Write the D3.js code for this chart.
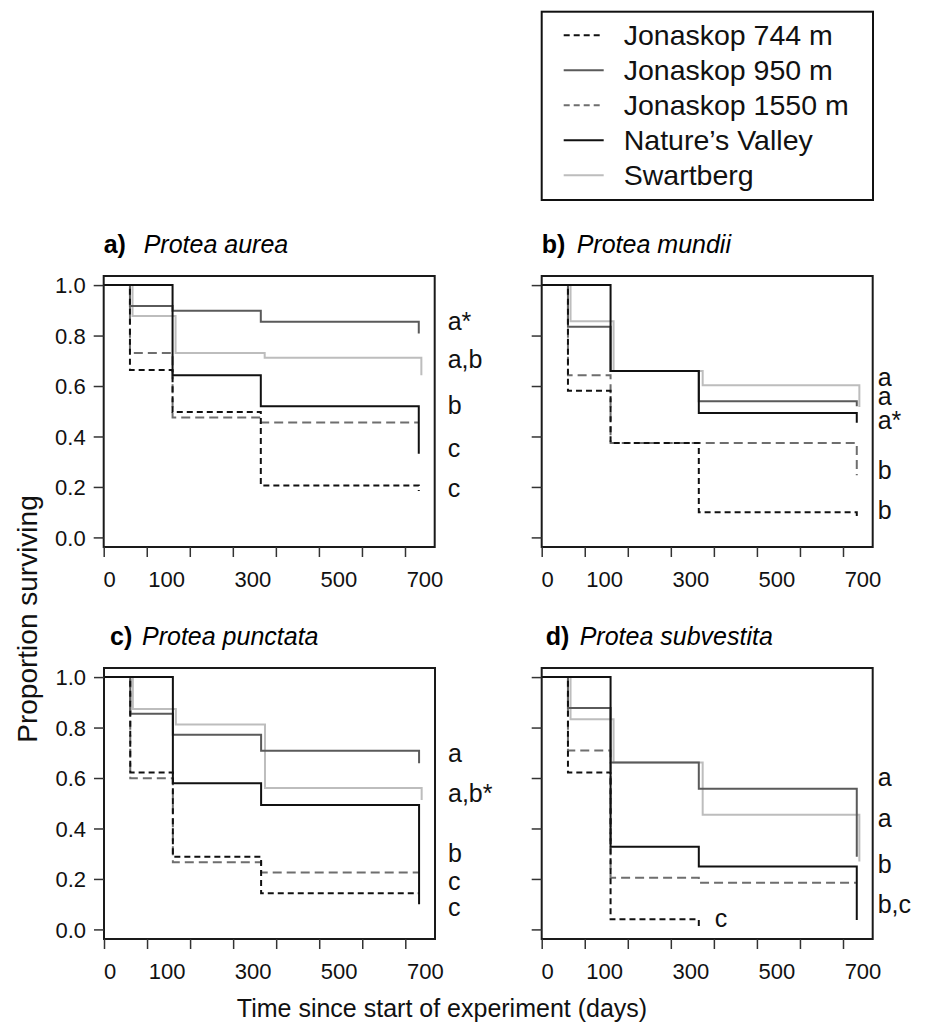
<!DOCTYPE html>
<html>
<head>
<meta charset="utf-8">
<script src="https://cdnjs.cloudflare.com/ajax/libs/d3/7.8.5/d3.min.js"></script>
<style>
  body { margin: 0; background: #fff; }
  svg { display: block; font-family: "Liberation Sans", Arial, Helvetica, sans-serif; }
</style>
</head>
<body>
<div id="chart"></div>
<script>
// Sites, in legend order
const sites = ["Jonaskop 744 m", "Jonaskop 950 m", "Jonaskop 1550 m", "Nature\u2019s Valley", "Swartberg"];
const siteColors = ["#111", "#5a5a5a", "#6e6e6e", "#111", "#bdbdbd"];
const siteDashes = ["6,4", null, "9,5", null, null];

// Census days (step times); last one is the end of the record
const jonaskopDays = [61, 160, 365, 732];
const natureDays = [61, 160, 365, 732];
const swartbergDays = [67, 167, 374, 738];
const siteDays = [jonaskopDays, jonaskopDays, jonaskopDays, natureDays, swartbergDays];

// Proportion surviving after each census, per site (same order as sites)
const aurea = [
  [0.663, 0.497, 0.206, 0.184],
  [0.917, 0.898, 0.855, 0.808],
  [0.731, 0.475, 0.455, 0.455],
  [1.0, 0.643, 0.520, 0.332],
  [0.877, 0.731, 0.712, 0.643]
];
const mundii = [
  [0.581, 0.374, 0.100, 0.081],
  [0.835, 0.660, 0.540, 0.520],
  [0.643, 0.374, 0.374, 0.246],
  [1.0, 0.660, 0.493, 0.454],
  [0.857, 0.660, 0.603, 0.517]
];
const punctata = [
  [0.622, 0.288, 0.143, 0.143],
  [0.855, 0.771, 0.708, 0.659],
  [0.599, 0.266, 0.226, 0.226],
  [1.0, 0.579, 0.493, 0.100],
  [0.874, 0.812, 0.560, 0.513]
];
const subvestita = [
  [0.622, 0.040, 0.0],
  [0.877, 0.661, 0.557, 0.288],
  [0.709, 0.205, 0.185, 0.185],
  [1.0, 0.328, 0.249, 0.037],
  [0.833, 0.661, 0.454, 0.269]
];

// Significance letters and where they sit (proportion units; day null = right of box)
const aureaLetters = ["a*", "a,b", "b", "c", "c"];
const aureaLetterY = [0.821, 0.671, 0.488, 0.317, 0.159];
const mundiiLetters = ["a", "a", "a*", "b", "b"];
const mundiiLetterY = [0.600, 0.524, 0.431, 0.233, 0.074];
const punctataLetters = ["a", "a,b*", "b", "c", "c"];
const punctataLetterY = [0.665, 0.506, 0.268, 0.156, 0.055];
const subvestitaLetters = ["a", "a", "b", "b,c", "c"];
const subvestitaLetterY = [0.569, 0.405, 0.222, 0.067, 0.008];
const subvestitaLetterDay = [null, null, null, null, 402];

const xTicks = [0, 100, 200, 300, 400, 500, 600, 700];
const xTickLabels = [0, 100, 300, 500, 700];
const yTicks = [0, 0.2, 0.4, 0.6, 0.8, 1.0];

const W = 925, H = 1022;
const pw = 331, ph = 271;

const panels = [
  { tag: "a)", name: "Protea aurea", curves: aurea, letters: aureaLetters, letterY: aureaLetterY,
    left: 103.7, top: 276, nameDx: 40, letterDx: 13, yLabels: true },
  { tag: "b)", name: "Protea mundii", curves: mundii, letters: mundiiLetters, letterY: mundiiLetterY,
    left: 541.7, top: 276, nameDx: 35, letterDx: 5, yLabels: false },
  { tag: "c)", name: "Protea punctata", curves: punctata, letters: punctataLetters, letterY: punctataLetterY,
    left: 104, top: 668, nameDx: 32, letterDx: 13, yLabels: true, tagDx: 6 },
  { tag: "d)", name: "Protea subvestita", curves: subvestita, letters: subvestitaLetters, letterY: subvestitaLetterY,
    letterDay: subvestitaLetterDay, left: 541.7, top: 668, nameDx: 34, letterDx: 5, yLabels: false, tagDx: 4 }
];

const svg = d3.select("#chart").append("svg")
  .attr("width", W).attr("height", H);
svg.append("rect").attr("width", W).attr("height", H).attr("fill", "#fff");

const x = d3.scaleLinear().domain([0, 769]).range([0, pw]);
const y = d3.scaleLinear().domain([-0.038, 1.036]).range([ph, 0]);

const line = d3.line()
  .x(d => x(d[0]))
  .y(d => y(d[1]))
  .curve(d3.curveStepAfter);

// draw order: light lines first, black on top
const drawOrder = [4, 2, 1, 0, 3];

panels.forEach(p => {
  const g = svg.append("g").attr("transform", `translate(${p.left},${p.top})`);

  // title
  g.append("text")
    .attr("x", p.tagDx || 0).attr("y", -23)
    .style("font-size", "25px").style("font-weight", "bold")
    .text(p.tag);
  g.append("text")
    .attr("x", (p.tagDx || 0) + p.nameDx).attr("y", -23)
    .style("font-size", "25px").style("font-style", "italic")
    .text(p.name);

  // curves
  drawOrder.forEach(i => {
    const vals = p.curves[i];
    const days = siteDays[i];
    const pts = [[0, 1]].concat(vals.map((v, k) => [days[k], v]));
    g.append("path")
      .datum(pts)
      .attr("fill", "none")
      .attr("stroke", siteColors[i])
      .attr("stroke-width", 2)
      .attr("stroke-dasharray", siteDashes[i])
      .attr("d", line);
  });

  // box
  g.append("rect")
    .attr("width", pw).attr("height", ph)
    .attr("fill", "none").attr("stroke", "#1a1a1a").attr("stroke-width", 2);

  // y axis
  const yAxis = g.append("g")
    .call(d3.axisLeft(y).tickValues(yTicks).tickSize(10)
      .tickFormat(p.yLabels ? d3.format(".1f") : ""));
  yAxis.select(".domain").remove();
  yAxis.selectAll(".tick line").attr("stroke", "#333").attr("stroke-width", 1.5);
  yAxis.selectAll(".tick text")
    .attr("x", -18).attr("dy", "0.35em")
    .style("font-size", "22px").style("font-family", "inherit").attr("fill", "#111");

  // x axis
  const xAxis = g.append("g")
    .attr("transform", `translate(0,${ph})`)
    .call(d3.axisBottom(x).tickValues(xTicks).tickSize(10).tickFormat(""));
  xAxis.select(".domain").remove();
  xAxis.selectAll(".tick line").attr("stroke", "#333").attr("stroke-width", 1.5);

  g.selectAll(".xlab")
    .data(xTickLabels)
    .enter().append("text")
    .attr("class", "xlab")
    .attr("x", d => x(d) + (d === 0 ? 6 : 20))
    .attr("y", ph + 40)
    .attr("text-anchor", "middle")
    .style("font-size", "22px")
    .attr("fill", "#111")
    .text(d => d);

  // significance letters
  g.selectAll(".sig")
    .data(p.letters)
    .enter().append("text")
    .attr("class", "sig")
    .attr("x", (d, i) => (p.letterDay && p.letterDay[i] != null) ? x(p.letterDay[i]) : pw + p.letterDx)
    .attr("y", (d, i) => y(p.letterY[i]))
    .style("font-size", "25px")
    .attr("fill", "#111")
    .text(d => d);
});

// axis titles
svg.append("text")
  .attr("transform", "translate(37,619) rotate(-90)")
  .attr("text-anchor", "middle")
  .style("font-size", "28px")
  .attr("fill", "#111")
  .text("Proportion surviving");

svg.append("text")
  .attr("x", 442).attr("y", 1017)
  .attr("text-anchor", "middle")
  .style("font-size", "25px")
  .attr("fill", "#111")
  .text("Time since start of experiment (days)");

// legend
const legend = svg.append("g").attr("transform", "translate(541.7,11.7)");
legend.append("rect")
  .attr("width", 331.3).attr("height", 188.3)
  .attr("fill", "#fff").attr("stroke", "#111").attr("stroke-width", 2);

const rows = legend.selectAll(".row")
  .data(sites)
  .enter().append("g")
  .attr("class", "row")
  .attr("transform", (d, i) => `translate(0,${33.5 + i * 35})`);

rows.append("line")
  .attr("x1", 22).attr("x2", 62)
  .attr("y1", -10).attr("y2", -10)
  .attr("stroke", (d, i) => siteColors[i])
  .attr("stroke-width", 2)
  .attr("stroke-dasharray", (d, i) => siteDashes[i] ? "6,4" : null);

rows.append("text")
  .attr("x", 82).attr("y", 0)
  .style("font-size", "28.5px")
  .attr("fill", "#111")
  .text(d => d);
</script>
</body>
</html>
